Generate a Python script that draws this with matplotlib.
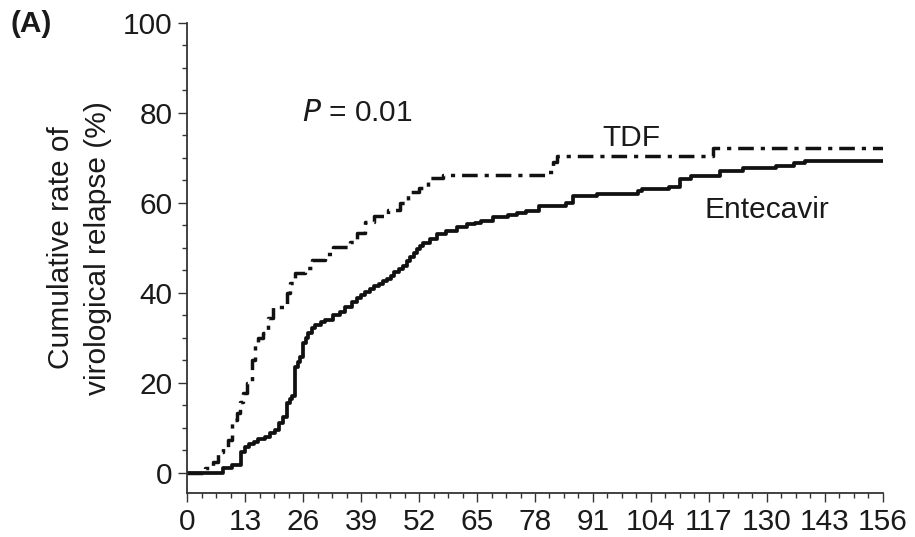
import numpy as np
from matplotlib import pyplot as plt
from matplotlib.ticker import MultipleLocator

plt.rcParams['font.family'] = ['Liberation Sans', 'DejaVu Sans']

# weeks / cumulative relapse (%) (step changes)
ent_weeks = [0, 8, 10, 12, 13, 14, 15, 16, 17.5, 18.5, 19.7, 20.7, 21.5, 22.4, 23, 23.5,
             24.2, 24.8, 25.3, 26, 26.6, 27.1, 28, 28.7, 30, 31, 32.7, 34.3, 35.5,
             37, 38, 39, 40, 41, 42, 43, 44, 44.8, 45.7, 46.5, 47.5, 48.4, 49.2, 50,
             50.8, 51.5, 52.3, 53, 54.5, 56, 58, 60.5, 62.7, 64.5, 66, 68.6, 72, 74,
             76, 79, 85, 86.5, 92, 101, 102, 108, 110.5, 113, 119.5, 124.6, 132,
             136, 138.5, 156]
ent_vals = [0, 1, 1.8, 4.7, 5.8, 6.4, 6.9, 7.5, 8, 8.8, 9.6, 11, 12.4, 15.5, 16.3, 17,
            23.6, 24.7, 25.8, 28.9, 30, 31, 32.1, 32.9, 33.5, 34, 35, 35.7, 36.8,
            38, 38.8, 39.5, 40.2, 40.8, 41.4, 42, 42.5, 43, 43.8, 44.5, 45.3, 46, 47, 48,
            48.9, 49.7, 50.4, 51, 52, 53, 53.7, 54.5, 55.2, 55.6, 56, 56.8, 57.3, 57.7,
            58.2, 59.2, 59.9, 61.4, 61.9, 62.5, 63, 63.5, 65.2, 65.9, 67, 67.8, 68.2,
            68.8, 69.2, 69.2]

tdf_weeks = [0, 4, 5.8, 7, 8, 9.2, 10, 11.2, 11.9, 12.6, 13.4, 14.6, 15.2, 16, 17,
             18.2, 19.3, 22, 22.4, 23.1, 24.2, 26.4, 28, 31, 32.7, 36.5, 38, 40,
             42, 45, 47.7, 49.5, 52, 54, 57.4, 81, 82, 83, 118, 156]
tdf_vals = [0, 1, 2.4, 4.7, 5.8, 7.3, 11.8, 13.3, 15.8, 17.7, 20, 25, 28.9, 30, 31,
            34.4, 36.9, 37.3, 40, 42.2, 44.4, 45.6, 47.3, 48.6, 50.2, 51.3, 53.3, 55.7,
            57, 58.4, 60, 62.3, 63.3, 65.4, 66.1, 66.8, 69, 70.4, 72.2, 72.2]

xticks = np.arange(0, 157, 13)
yticks = [0, 20, 40, 60, 80, 100]

fig = plt.figure(figsize=(9.15, 5.37), dpi=100)
ax = fig.add_axes([0.2044, 0.0819, 0.7606, 0.8758])

ax.step(tdf_weeks, tdf_vals, where='post', color='#111111', lw=2.5,
        linestyle=(0, (4.5, 2, 1.2, 2)))
ax.step(ent_weeks, ent_vals, where='post', color='#111111', lw=2.7)

ax.set_xlim(0, 156)
ax.set_ylim(-4.5, 100)
ax.spines['top'].set_visible(False)
ax.spines['right'].set_visible(False)
ax.spines['left'].set_bounds(-4.5, 100)
for s in ['left', 'bottom']:
    ax.spines[s].set_linewidth(1.3)
    ax.spines[s].set_color('#333333')

ax.set_xticks(xticks)
ax.set_yticks(yticks)
ax.xaxis.set_minor_locator(MultipleLocator(3.25))
ax.set_yticks([v for v in np.arange(0, 101, 5) if v % 20], minor=True)
ax.tick_params(which='major', length=6.5, width=1, color='#333333',
               labelsize=21.5, labelcolor='#1a1a1a', pad=4)
ax.tick_params(which='minor', length=3.5, width=1, color='#333333')

ax.set_ylabel('Cumulative rate of\nvirological relapse (%)', fontsize=21.5,
              color='#1a1a1a', linespacing=1.4)
ax.yaxis.set_label_coords(-0.108, 54.5 / 104.5)

ax.text(25.8, 80, r'$\mathit{P}$ = 0.01', fontsize=21.5, color='#1a1a1a', va='center')
ax.text(93.2, 74.4, 'TDF', fontsize=21.5, color='#1a1a1a', va='center')
ax.text(116.1, 58.3, 'Entecavir', fontsize=21.5, color='#1a1a1a', va='center')
fig.text(0.011, 0.955, '(A)', fontsize=21.5, fontweight='bold', color='#1a1a1a', va='center')

fig.savefig('out.png', dpi=100)
